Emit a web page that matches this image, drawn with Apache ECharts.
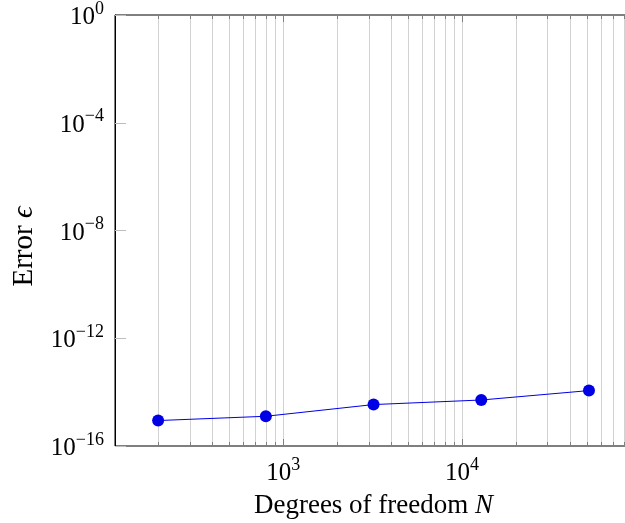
<!DOCTYPE html>
<html>
<head>
<meta charset="utf-8">
<script src="https://cdn.jsdelivr.net/npm/echarts@6/dist/echarts.min.js"></script>
<style>
  html, body { margin: 0; padding: 0; background: #fff; }
  #chart { width: 625px; height: 523px; }
</style>
</head>
<body>
<div id="chart"></div>
<script>
// convergence plot: error vs degrees of freedom (log-log)
const dofs = [200, 800, 3200, 12800, 51200];
const errors = [8.8e-16, 1.27e-15, 3.45e-15, 5.1e-15, 1.14e-14];
// vertical grid lines (pgfplots-style minor log grid)
const xGridValues = [
  200, 300, 400, 500, 600, 700, 800, 900,
  1000, 2000, 3000, 4000, 5000, 6000, 7000, 8000, 9000,
  10000, 20000, 30000, 40000, 50000, 60000, 70000, 80000
];
const xMin = 114.8, xMax = 89100;
const yMin = 1e-16, yMax = 1;

const FONT = 'Liberation Serif';
const chart = echarts.init(document.getElementById('chart'), null, { renderer: 'canvas' });

function expLabel(v) {
  const e = Math.round(Math.log10(v));
  const s = e < 0 ? '\u2212' + (-e) : String(e);
  return '{b|10}{s|' + s + '}';
}
const richLabel = {
  b: { fontFamily: FONT, fontSize: 25, color: '#000', lineHeight: 30, verticalAlign: 'bottom' },
  s: { fontFamily: FONT, fontSize: 18, color: '#000', lineHeight: 18, verticalAlign: 'top' },
};

chart.setOption({
  animation: false,
  backgroundColor: '#fff',
  grid: {
    left: 115, right: -7, top: 15, bottom: 77,
    outerBoundsMode: 'none',
    containLabel: false,
    show: true, borderColor: '#000', borderWidth: 1, backgroundColor: 'transparent',
  },
  xAxis: {
    type: 'log',
    min: xMin, max: xMax,
    name: '{r|Degrees of freedom }{i|N}',
    nameLocation: 'middle',
    nameGap: 46,
    nameTextStyle: {
      rich: {
        r: { fontFamily: FONT, fontSize: 27, color: '#000' },
        i: { fontFamily: FONT, fontSize: 27, color: '#000', fontStyle: 'italic' },
      },
    },
    axisLine: { show: false },
    axisTick: { show: false },
    splitLine: { show: false },
    axisLabel: {
      interval: 0,
      showMinLabel: false, showMaxLabel: false,
      margin: 10,
      formatter: v => {
        const l = Math.log10(v);
        return Math.abs(l - Math.round(l)) < 1e-6 ? expLabel(v) : '';
      },
      rich: richLabel,
    },
  },
  yAxis: {
    type: 'log',
    min: yMin, max: yMax,
    interval: 4,
    splitNumber: 4,
    name: '{r|Error }{i|ϵ}',
    nameLocation: 'middle',
    nameGap: 76,
    nameTextStyle: {
      padding: [0, 32, 0, 0],
      rich: {
        r: { fontFamily: FONT, fontSize: 29, color: '#000' },
        i: { fontFamily: FONT, fontSize: 29, color: '#000', fontStyle: 'italic' },
      },
    },
    axisLine: { show: true, lineStyle: { color: '#000', width: 1 } },
    axisTick: { show: true, inside: true, length: 11, lineStyle: { color: '#bdbdbd', width: 1 } },
    splitLine: { show: false },
    axisLabel: {
      margin: 11,
      formatter: v => expLabel(v),
      rich: richLabel,
    },
  },
  series: [
    {
      type: 'custom',
      silent: true,
      z: 1,
      data: xGridValues.map(v => [v, yMax]),
      encode: { x: 0, y: 1 },
      renderItem: (params, api) => {
        const v = api.value(0);
        const x = Math.round(api.coord([v, yMax])[0]) + 0.5;
        const cs = params.coordSys;
        const l = Math.log10(v);
        const major = Math.abs(l - Math.round(l)) < 1e-6;
        const t = major ? 7 : 4;
        return {
          type: 'group',
          children: [
            { type: 'line', shape: { x1: x, y1: cs.y, x2: x, y2: cs.y + cs.height },
              style: { stroke: '#d2d2d2', lineWidth: 1 } },
            { type: 'line', shape: { x1: x, y1: cs.y, x2: x, y2: cs.y + t },
              style: { stroke: '#808080', lineWidth: 1 } },
            { type: 'line', shape: { x1: x, y1: cs.y + cs.height - t, x2: x, y2: cs.y + cs.height },
              style: { stroke: '#808080', lineWidth: 1 } },
          ],
        };
      },
    },
    {
      type: 'line',
      z: 3,
      data: dofs.map((d, i) => [d, errors[i]]),
      symbol: 'circle',
      symbolSize: 12,
      lineStyle: { color: '#0000e6', width: 1 },
      itemStyle: { color: '#0000e6' },
    },
  ],
});
</script>
</body>
</html>
